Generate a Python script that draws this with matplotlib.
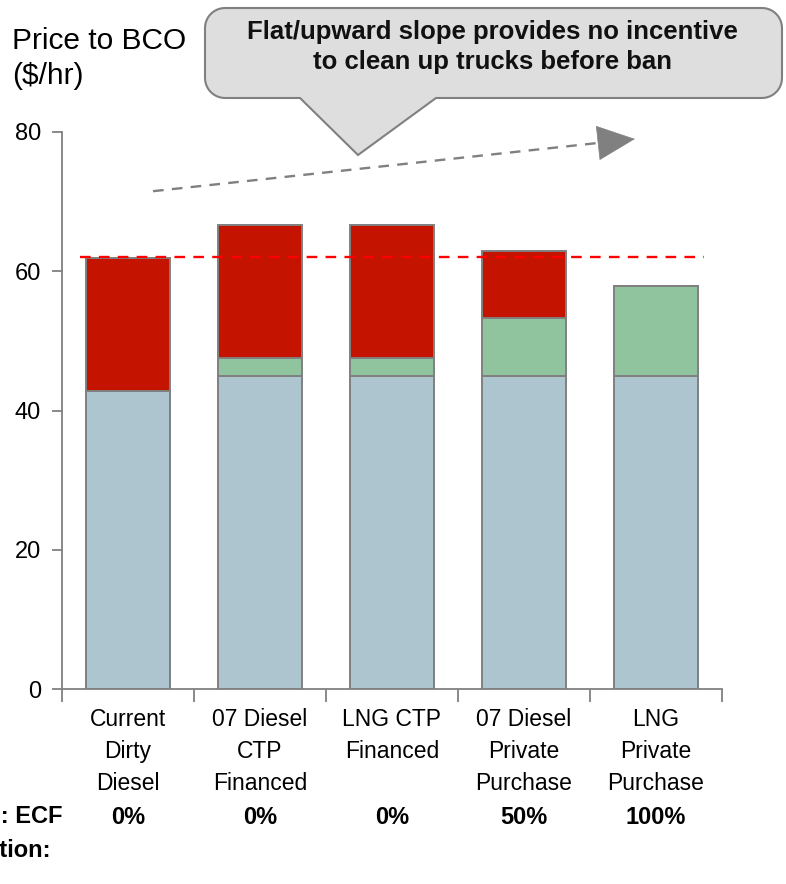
import numpy as np
import matplotlib.pyplot as plt
from matplotlib.patches import Polygon

plt.rcParams['font.family'] = ['Liberation Sans', 'DejaVu Sans']

# datos
categorias = ['Current\nDirty\nDiesel', '07 Diesel\nCTP\nFinanced', 'LNG CTP\nFinanced',
              '07 Diesel\nPrivate\nPurchase', 'LNG\nPrivate\nPurchase']
base = [42.8, 45.0, 45.0, 45.0, 45.0]
verde = [0.0, 2.6, 2.6, 8.3, 12.9]
rojo = [19.1, 19.1, 19.1, 9.6, 0.0]
exencion = ['0%', '0%', '0%', '50%', '100%']
precio_actual = 62.0
y_ticks = [0, 20, 40, 60, 80]

texto_globo = 'Flat/upward slope provides no incentive\nto clean up trucks before ban'

W, H = 786, 884
fig = plt.figure(figsize=(W / 100, H / 100), dpi=100)
ax = fig.add_axes([62 / W, 1 - 689 / H, 660 / W, 557 / H])

x = np.arange(len(categorias))
base = np.array(base)
verde = np.array(verde)
rojo = np.array(rojo)
borde = dict(edgecolor='#808080', linewidth=1.4, width=0.64)

ax.bar(x, base, color='#ACC5CF', **borde)
ax.bar(x, verde, bottom=base, color='#8FC49F', **borde)
ax.bar(x, rojo, bottom=base + verde, color='#C41400', **borde)

# linea de referencia (precio actual)
ax.plot([-0.36, 4.36], [precio_actual, precio_actual], color='#FF0000',
        lw=1.7, dashes=(4.5, 3.5), zorder=3)

# flecha de tendencia: linea a trazos + punta solida
ini, fin = np.array([0.19, 71.5]), np.array([3.84, 79.0])
base_punta = ini + (fin - ini) * 0.945
ax.plot([ini[0], base_punta[0]], [ini[1], base_punta[1]], color='#808080',
        lw=1.7, dashes=(4.5, 3.5), clip_on=False)
ax.annotate('', xy=tuple(fin), xytext=tuple(base_punta),
            arrowprops=dict(arrowstyle='-|>,head_length=1.3,head_width=0.6',
                            mutation_scale=20, color='#808080', lw=0.5,
                            shrinkA=0, shrinkB=0),
            annotation_clip=False)

ax.set_xlim(-0.5, 4.5)
ax.set_ylim(0, 80)
ax.set_yticks(y_ticks)
ax.set_xticks(np.arange(-0.5, 5.0, 1.0))
ax.set_xticklabels([])
ax.set_xticks(x, minor=True)
ax.set_xticklabels(categorias, minor=True)
ax.tick_params(axis='x', which='major', length=9, color='#808080', width=1.3)
ax.tick_params(axis='x', which='minor', length=0, pad=14, labelsize=16.5)
ax.tick_params(axis='y', length=7, color='#808080', width=1.3, pad=8, labelsize=17)
for lab in ax.get_xticklabels(minor=True):
    lab.set_linespacing(1.5)
for s in ['top', 'right']:
    ax.spines[s].set_visible(False)
for s in ['left', 'bottom']:
    ax.spines[s].set_color('#808080')
    ax.spines[s].set_linewidth(1.3)

# fila de porcentajes
y_fila = 817
for xi, p in zip(x, exencion):
    ax.text(xi, (689 - y_fila) / 557, p, transform=ax.get_xaxis_transform(),
            ha='center', va='center', fontsize=17, fontweight='bold')
fig.text(63 / W, 1 - y_fila / H, 'Assumption: ECF', ha='right', va='center',
         fontsize=17, fontweight='bold')
fig.text(51 / W, 1 - (y_fila + 34) / H, 'Exemption:', ha='right', va='center',
         fontsize=17, fontweight='bold')

# titulo del eje
fig.text(12 / W, 1 - 41 / H, 'Price to BCO', ha='left', va='center', fontsize=21.5)
fig.text(12 / W, 1 - 76 / H, '($/hr)', ha='left', va='center', fontsize=21.5)


# globo de texto
def globo(x0, x1, y0, y1, r, wx0, wx1, punta):
    pts = []
    for cx, cy, a0, a1 in [(x0 + r, y0 + r, 180, 270), (x1 - r, y0 + r, 270, 360),
                           (x1 - r, y1 - r, 0, 90)]:
        a = np.radians(np.linspace(a0, a1, 12))
        pts += list(zip(cx + r * np.cos(a), cy + r * np.sin(a)))
    pts += [(wx1, y1), punta, (wx0, y1)]
    a = np.radians(np.linspace(90, 180, 12))
    pts += list(zip(x0 + r + r * np.cos(a), y1 - r + r * np.sin(a)))
    return [(px / W, 1 - py / H) for px, py in pts]


fig.add_artist(Polygon(globo(205, 782, 8, 98, 20, 300, 436, (358, 155)),
                       closed=True, transform=fig.transFigure,
                       facecolor='#DEDEDE', edgecolor='#808080', lw=1.5))
fig.text(492 / W, 1 - 47 / H, texto_globo, ha='center', va='center',
         fontsize=18.5, fontweight='bold', linespacing=1.3, color='#111111')

fig.savefig('out.png', dpi=100)
